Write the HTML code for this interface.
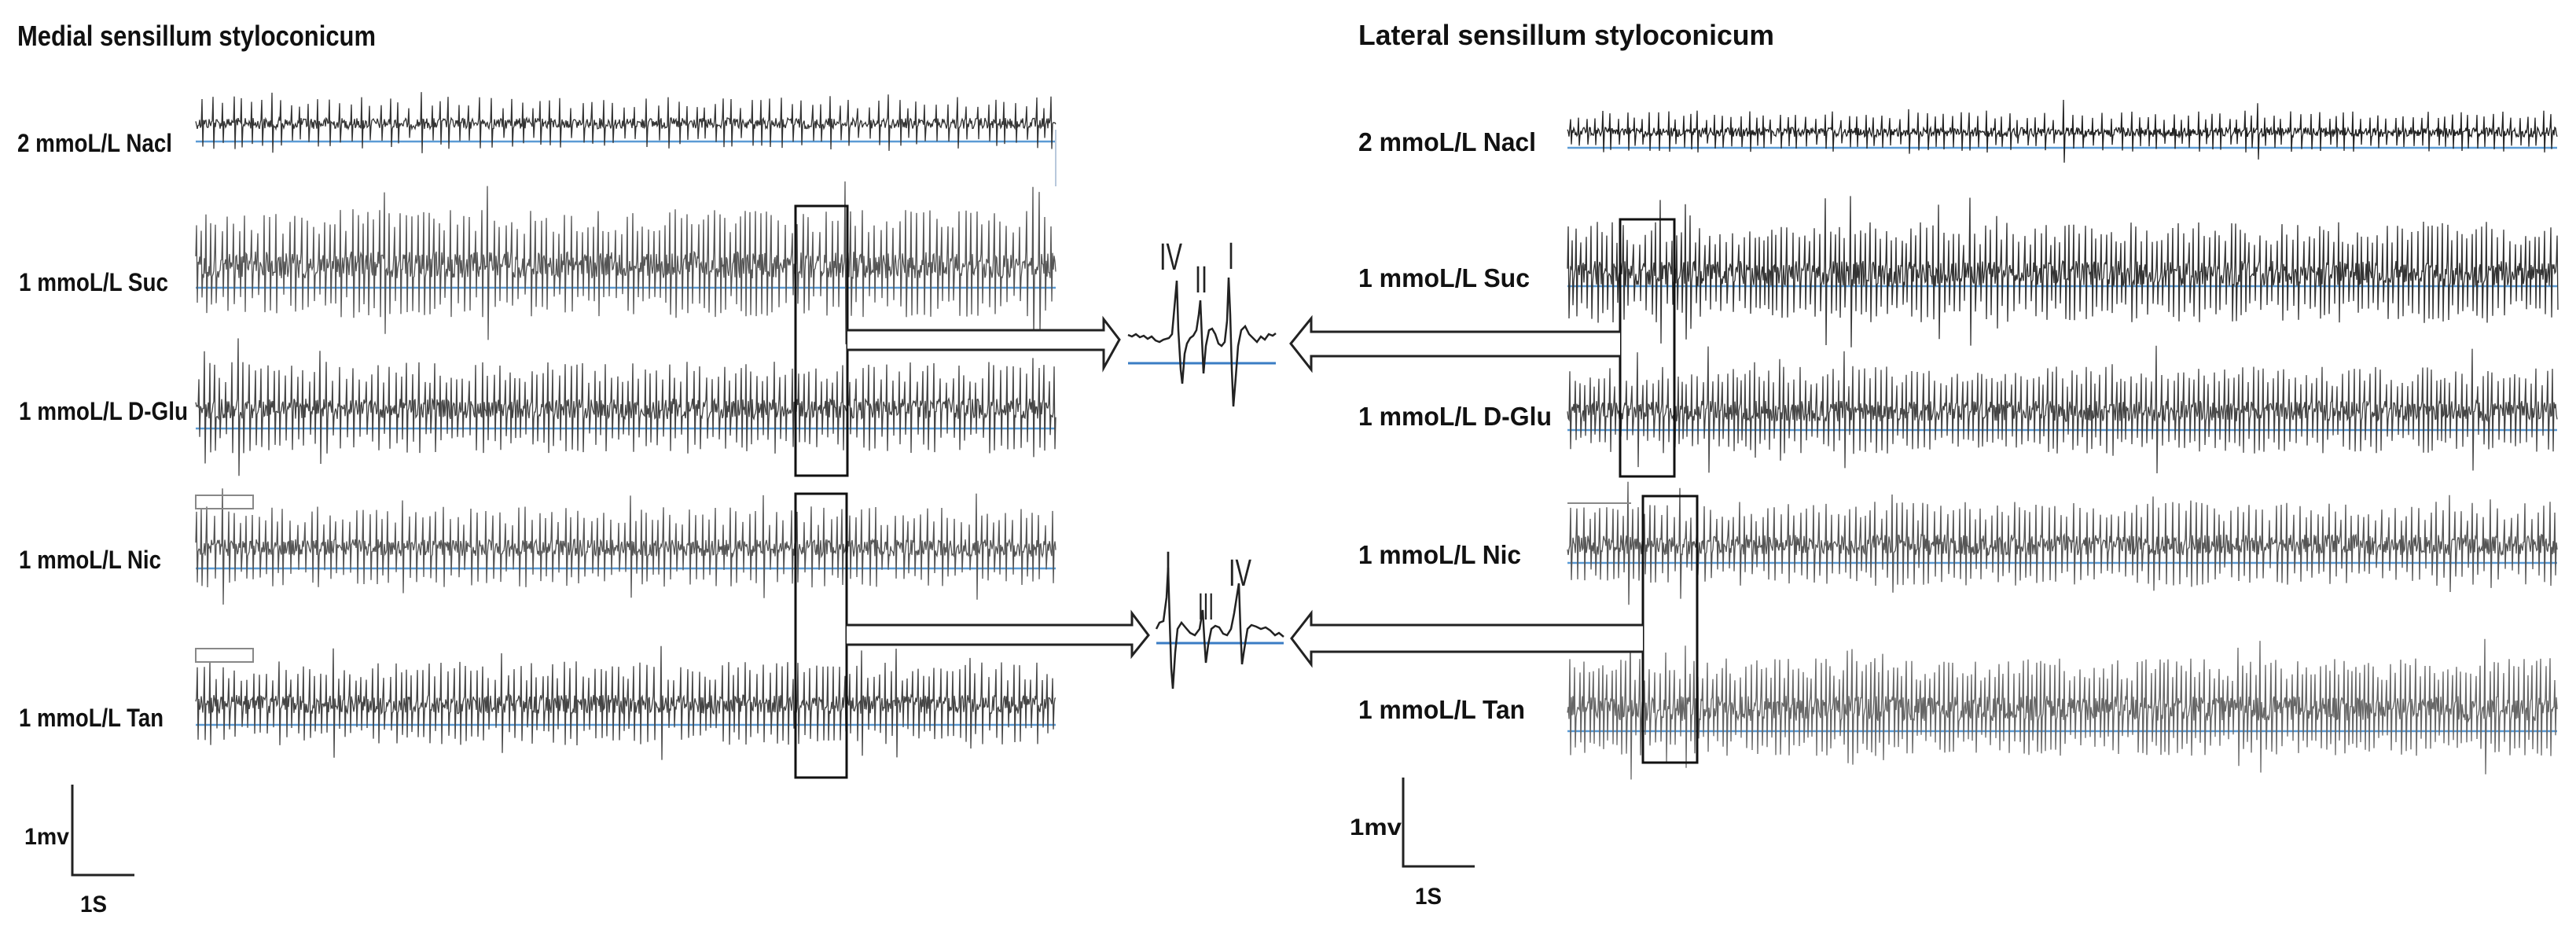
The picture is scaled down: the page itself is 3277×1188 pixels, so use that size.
<!DOCTYPE html>
<html><head><meta charset="utf-8">
<style>
html,body{margin:0;padding:0;background:#fff;}
svg{display:block;}
.lb{font-family:"Liberation Sans",sans-serif;font-weight:bold;fill:#111;}
.rn{font-family:"Liberation Sans",sans-serif;fill:#222;}
</style></head>
<body>
<svg id="s" width="3277" height="1188" viewBox="0 0 3277 1188" xmlns="http://www.w3.org/2000/svg">
<rect width="3277" height="1188" fill="#fff"/>
<g id="traces"></g>
<text class="lb" x="22" y="58" font-size="36" textLength="456" lengthAdjust="spacingAndGlyphs">Medial sensillum styloconicum</text>
<text class="lb" x="1728" y="57" font-size="36" textLength="529" lengthAdjust="spacingAndGlyphs">Lateral sensillum styloconicum</text>
<text class="lb" x="22" y="193" font-size="32" textLength="197" lengthAdjust="spacingAndGlyphs">2 mmoL/L Nacl</text>
<text class="lb" x="24" y="370" font-size="32" textLength="190" lengthAdjust="spacingAndGlyphs">1 mmoL/L Suc</text>
<text class="lb" x="24" y="534" font-size="32" textLength="215" lengthAdjust="spacingAndGlyphs">1 mmoL/L D-Glu</text>
<text class="lb" x="24" y="723" font-size="32" textLength="181" lengthAdjust="spacingAndGlyphs">1 mmoL/L Nic</text>
<text class="lb" x="24" y="924" font-size="32" textLength="184" lengthAdjust="spacingAndGlyphs">1 mmoL/L Tan</text>
<text class="lb" x="1728" y="192" font-size="33" textLength="226" lengthAdjust="spacingAndGlyphs">2 mmoL/L Nacl</text>
<text class="lb" x="1728" y="365" font-size="33" textLength="218" lengthAdjust="spacingAndGlyphs">1 mmoL/L Suc</text>
<text class="lb" x="1728" y="541" font-size="33" textLength="246" lengthAdjust="spacingAndGlyphs">1 mmoL/L D-Glu</text>
<text class="lb" x="1728" y="717" font-size="33" textLength="207" lengthAdjust="spacingAndGlyphs">1 mmoL/L Nic</text>
<text class="lb" x="1728" y="914" font-size="33" textLength="212" lengthAdjust="spacingAndGlyphs">1 mmoL/L Tan</text>
<g fill="none" stroke="#111" stroke-width="3">
<rect x="1012" y="262" width="66" height="343"/>
<rect x="1012" y="628" width="65" height="361"/>
<rect x="2061" y="279" width="69" height="327"/>
<rect x="2090" y="631" width="69" height="339"/>
</g>
<g fill="#fff" stroke="#222" stroke-width="3" stroke-linejoin="miter">
<path d="M1078,420 L1404,420 L1404,406 L1424,432 L1404,468 L1404,445 L1078,445"/>
<path d="M2061,422 L1668,422 L1668,405 L1642,437 L1668,470 L1668,453 L2061,453"/>
<path d="M1077,795 L1440,795 L1440,780 L1461,808 L1440,834 L1440,820 L1077,820"/>
<path d="M2090,795 L1668,795 L1668,780 L1643,812 L1668,845 L1668,829 L2090,829"/>
</g>
<line x1="1435" y1="462" x2="1623" y2="462" stroke="#3a7cc4" stroke-width="3"/>
<line x1="1471" y1="818" x2="1633" y2="818" stroke="#3a7cc4" stroke-width="3"/>
<polyline fill="none" stroke="#222" stroke-width="2.5" points="1435,426 1440,428 1445,425 1450,429 1455,427 1460,431 1465,428 1470,433 1475,435 1480,432 1487,430 1491,425 1495,380 1497,357 1499,420 1502,470 1504,488 1507,450 1510,437 1514,430 1518,427 1522,420 1525,400 1527,382 1529,430 1531,475 1534,440 1538,420 1542,418 1546,425 1550,437 1554,440 1558,435 1561,408 1563,353 1565,400 1567,470 1569,517 1572,480 1575,440 1579,420 1584,415 1589,425 1594,430 1599,435 1604,428 1609,432 1614,425 1619,427 1623,424"/>
<polyline fill="none" stroke="#222" stroke-width="2.5" points="1471,800 1475,792 1480,790 1484,760 1486,722 1488,790 1490,850 1492,876 1495,830 1498,800 1503,792 1508,798 1514,805 1520,808 1526,800 1530,776 1532,812 1534,843 1537,820 1541,800 1546,796 1551,798 1556,806 1561,808 1566,800 1570,780 1576,742 1578,800 1580,845 1583,825 1587,800 1592,795 1598,797 1604,800 1610,798 1616,802 1622,808 1627,805 1633,810"/>
<text class="rn" x="1475" y="343" font-size="48" textLength="29" lengthAdjust="spacingAndGlyphs">IV</text>
<text class="rn" x="1520" y="372" font-size="48" textLength="16" lengthAdjust="spacingAndGlyphs">II</text>
<text class="rn" x="1562" y="342" font-size="48" textLength="8" lengthAdjust="spacingAndGlyphs">I</text>
<text class="rn" x="1482" y="735" font-size="48" textLength="8" lengthAdjust="spacingAndGlyphs">I</text>
<text class="rn" x="1524" y="788" font-size="48" textLength="20" lengthAdjust="spacingAndGlyphs">III</text>
<text class="rn" x="1563" y="745" font-size="48" textLength="29" lengthAdjust="spacingAndGlyphs">IV</text>
<polyline fill="none" stroke="#222" stroke-width="3" points="92,998 92,1113 171,1113"/>
<text class="lb" x="31" y="1074" font-size="30" textLength="57" lengthAdjust="spacingAndGlyphs">1mv</text>
<text class="lb" x="102" y="1160" font-size="30" textLength="34" lengthAdjust="spacingAndGlyphs">1S</text>
<polyline fill="none" stroke="#222" stroke-width="3" points="1785,989 1785,1102 1876,1102"/>
<text class="lb" x="1717" y="1062" font-size="30" textLength="66" lengthAdjust="spacingAndGlyphs">1mv</text>
<text class="lb" x="1800" y="1150" font-size="30" textLength="34" lengthAdjust="spacingAndGlyphs">1S</text>
<g fill="none" stroke="#888" stroke-width="2">
<rect x="249" y="630" width="73" height="17"/>
<rect x="249" y="825" width="73" height="17"/>
<line x1="1994" y1="640" x2="2075" y2="640"/>
</g>
<line x1="1343" y1="165" x2="1343" y2="237" stroke="#b8c8dc" stroke-width="2"/>
</svg>
<script>
(function(){
var seed=12345;
function r(){seed=(seed*1103515245+12345)%2147483648;return seed/2147483648;}
var g=document.getElementById('traces');
var NS='http://www.w3.org/2000/svg';
var rows=[
[249,1343,157,180,14,32,11,'#333'],
[249,1343,337,366,34,65,6,'#555'],
[249,1343,520,545,26,55,6,'#444'],
[249,1343,697,723,22,48,7,'#555'],
[249,1343,896,922,24,50,6,'#444'],
[1994,3253,168,188,12,25,9,'#222'],
[1994,3253,348,364,32,60,5,'#333'],
[1994,3253,523,547,26,52,5,'#444'],
[1994,3253,693,716,26,50,6,'#555'],
[1994,3253,901,930,32,58,4.5,'#666']
];
rows.forEach(function(R){
  var x0=R[0],x1=R[1],c=R[2],b=R[3],n=R[4],A=R[5],iv=R[6],col=R[7];
  var bl=document.createElementNS(NS,'line');
  bl.setAttribute('x1',x0);bl.setAttribute('x2',x1);bl.setAttribute('y1',b);bl.setAttribute('y2',b);
  bl.setAttribute('stroke','#5b9bd5');bl.setAttribute('stroke-width','2.5');g.appendChild(bl);
  var pts=[];var next=x0+r()*iv;
  for(var x=x0;x<=x1;x+=1){
    var y=c+(r()-0.5)*n;
    if(x>=next){
      var a=A*(0.6+r()*0.5); if(r()<0.05)a*=1.5;
      pts.push(x+','+(c-a).toFixed(1));
      pts.push((x+1)+','+(c+a*0.95).toFixed(1));
      x+=1;
      next=x+iv*(0.7+r()*0.6);
      continue;
    }
    pts.push(x+','+y.toFixed(1));
  }
  var p=document.createElementNS(NS,'polyline');
  p.setAttribute('points',pts.join(' '));p.setAttribute('fill','none');
  p.setAttribute('stroke',col);p.setAttribute('stroke-width','1.3');
  g.appendChild(p);
});
})();
</script>
</body></html>
